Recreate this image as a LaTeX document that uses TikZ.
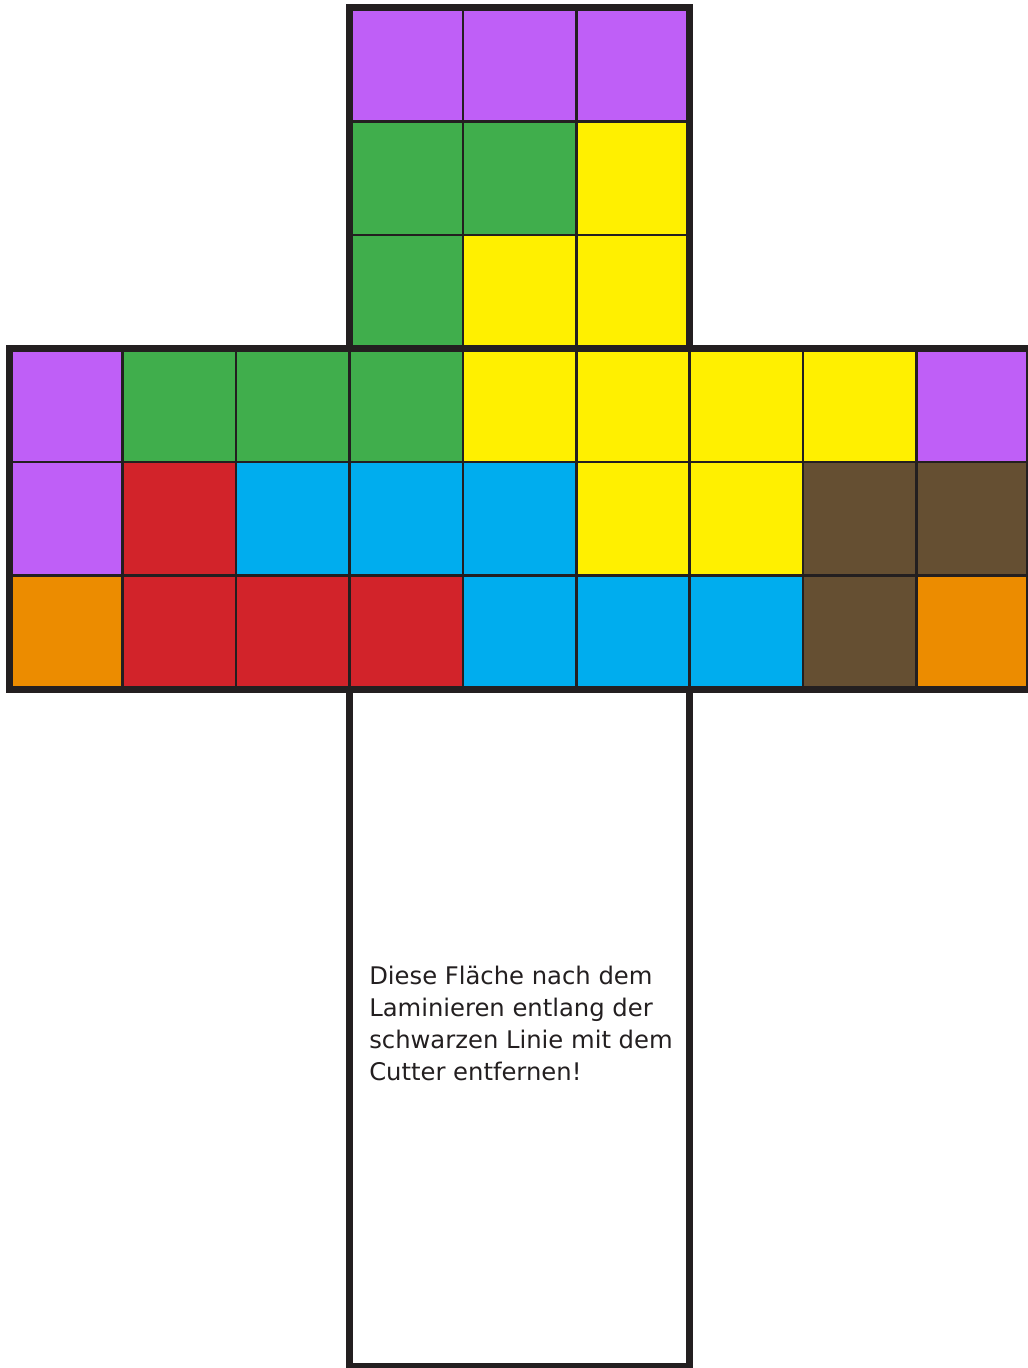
\documentclass[tikz,border=0pt]{standalone}
\usepackage{fontspec}
\newfontfamily\notefont{DejaVu Sans}
\begin{document}
\begin{tikzpicture}[x=0.75pt,y=-0.75pt,
  cell/.style={draw=lineC,line width=2pt},
  cutline/.style={draw=lineC,line width=5.6pt,line join=miter},
  note/.style={anchor=north west,inner sep=0pt,align=left,text=lineC,
    font=\notefont\fontsize{18.2}{24}\selectfont}]
\definecolor{lineC}{HTML}{231F20}
\definecolor{cP}{HTML}{BF5FF7}
\definecolor{cG}{HTML}{40AE4C}
\definecolor{cY}{HTML}{FFF000}
\definecolor{cR}{HTML}{D2232A}
\definecolor{cB}{HTML}{00ADEE}
\definecolor{cN}{HTML}{654F32}
\definecolor{cO}{HTML}{EC8C00}
\useasboundingbox (0,0) rectangle (1028,1368);
\fill[white] (0,0) rectangle (1028,1368);
% coloured cells
\foreach \c/\r/\col in {3/0/cP,4/0/cP,5/0/cP,
                        3/1/cG,4/1/cG,5/1/cY,
                        3/2/cG,4/2/cY,5/2/cY,
  0/3/cP,1/3/cG,2/3/cG,3/3/cG,4/3/cY,5/3/cY,6/3/cY,7/3/cY,8/3/cP,
  0/4/cP,1/4/cR,2/4/cB,3/4/cB,4/4/cB,5/4/cY,6/4/cY,7/4/cN,8/4/cN,
  0/5/cO,1/5/cR,2/5/cR,3/5/cR,4/5/cB,5/5/cB,6/5/cB,7/5/cN,8/5/cO}
  \filldraw[cell,fill=\col] ({9.3+\c*113.4},{7.7+\r*113.6}) rectangle ++(113.4,113.6);
% cut lines
\draw[cutline] (349.5,7.7) rectangle (689.7,348.5);
\draw[cutline] (9.3,348.5) rectangle (1030,689.3);
\draw[cutline] (349.5,689.3) rectangle (689.7,1366.5);
\node[note] (txt) at (369,966) {Diese Fläche nach dem\\Laminieren entlang der\\schwarzen Linie mit dem\\Cutter entfernen!};
\end{tikzpicture}
\end{document}
